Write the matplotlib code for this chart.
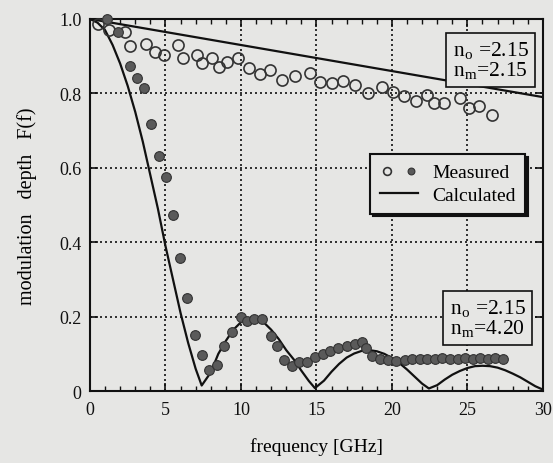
import numpy as np
import matplotlib.pyplot as plt
from matplotlib.legend_handler import HandlerTuple
from matplotlib.ticker import MultipleLocator

plt.rcParams['font.family'] = ['Liberation Serif', 'DejaVu Serif']
plt.rcParams['mathtext.fontset'] = 'stix'

# calculated curves
calc_f_hi = [0, 10, 20, 30]
calc_F_hi = [1.0, 0.93, 0.86, 0.79]   # n_m = 2.15

calc_f_lo = [0, 0.5, 1, 1.5, 2, 2.5, 3, 3.5, 4, 4.5, 5, 5.5, 6, 6.5, 7, 7.4,
             8, 8.5, 9, 9.5, 10, 10.5, 11, 11.5, 12, 12.5, 13, 13.5, 14, 14.5, 14.9,
             15.5, 16, 16.5, 17, 17.5, 18, 18.5, 19, 19.5, 20, 20.5, 21, 21.5, 22, 22.45,
             23, 23.5, 24, 24.5, 25, 25.5, 26, 26.5, 27, 27.5, 28, 28.5, 29, 29.5, 30]
calc_F_lo = [1.0, 0.99, 0.97, 0.93, 0.88, 0.82, 0.75, 0.67, 0.58, 0.49, 0.39, 0.30, 0.21, 0.13, 0.06, 0.015,
             0.05, 0.10, 0.135, 0.165, 0.185, 0.195, 0.195, 0.185, 0.165, 0.14, 0.11, 0.085, 0.055, 0.027, 0.008,
             0.028, 0.052, 0.073, 0.09, 0.101, 0.108, 0.11, 0.107, 0.10, 0.089, 0.075, 0.058, 0.039, 0.02, 0.007,
             0.016, 0.031, 0.044, 0.054, 0.062, 0.067, 0.068, 0.067, 0.063, 0.056, 0.047, 0.037, 0.025, 0.013, 0.004]   # n_m = 4.20

# measured, open circles (n_m = 2.15)
meas_f_open = [0.55, 1.28, 2.32, 2.65, 3.69, 4.28, 4.92, 5.81, 6.18, 7.06, 7.40, 8.06, 8.56, 9.05, 9.78,
               10.55, 11.26, 11.92, 12.74, 13.58, 14.57, 15.23, 16.0, 16.78, 17.55, 18.43, 19.32, 20.04,
               20.8, 21.59, 22.34, 22.8, 23.44, 24.5, 25.1, 25.76, 26.64]
meas_F_open = [0.987, 0.971, 0.964, 0.928, 0.933, 0.912, 0.903, 0.931, 0.895, 0.903, 0.882, 0.895, 0.870, 0.885, 0.894,
               0.868, 0.852, 0.864, 0.837, 0.848, 0.855, 0.830, 0.828, 0.834, 0.823, 0.800, 0.816, 0.803,
               0.792, 0.779, 0.796, 0.774, 0.774, 0.787, 0.760, 0.767, 0.742]

# measured, filled dots (n_m = 4.20)
meas_f_fill = [1.1, 1.88, 2.65, 3.09, 3.58, 4.02, 4.57, 5.03, 5.47, 5.96, 6.45, 6.95, 7.4, 7.9, 8.39, 8.87,
               9.38, 10.0, 10.42, 10.88, 11.41, 11.96, 12.4, 12.85, 13.36, 13.86, 14.39, 14.9, 15.41, 15.9,
               16.44, 17.0, 17.55, 17.99, 18.3, 18.65, 19.2, 19.75, 20.3, 20.85, 21.35, 21.85, 22.35, 22.85,
               23.35, 23.85, 24.35, 24.85, 25.35, 25.85, 26.35, 26.85, 27.35]
meas_F_fill = [1.0, 0.964, 0.873, 0.841, 0.815, 0.718, 0.631, 0.574, 0.473, 0.358, 0.249, 0.151, 0.098, 0.056, 0.071, 0.12,
               0.16, 0.20, 0.189, 0.195, 0.195, 0.147, 0.12, 0.083, 0.068, 0.077, 0.079, 0.092, 0.099, 0.108,
               0.117, 0.122, 0.126, 0.131, 0.117, 0.095, 0.086, 0.083, 0.081, 0.084, 0.086, 0.085, 0.087, 0.086,
               0.088, 0.087, 0.086, 0.088, 0.087, 0.088, 0.087, 0.088, 0.087]

bg = '#e6e6e4'
fig = plt.figure(figsize=(5.53, 4.64), dpi=100, facecolor=bg)
ax = fig.add_axes([0.1627, 0.155, 0.819, 0.802], facecolor=bg)

ax.plot(calc_f_hi, calc_F_hi, '-', color='#111111', lw=1.6, zorder=3)
line, = ax.plot(calc_f_lo, calc_F_lo, '-', color='#111111', lw=1.6, zorder=3)
op, = ax.plot(meas_f_open, meas_F_open, 'o', ms=8, mfc='none', mec='#333333', mew=1.2, zorder=4, clip_on=False)
fi, = ax.plot(meas_f_fill, meas_F_fill, 'o', ms=7, mfc='#5a5a5a', mec='#333333', mew=0.8, zorder=4, clip_on=False)

ax.set_xlim(0, 30)
ax.set_ylim(0, 1.0)
ax.set_xticks([0, 5, 10, 15, 20, 25, 30])
ax.set_yticks([0, 0.2, 0.4, 0.6, 0.8, 1.0])
ax.set_yticklabels(['0', '0.2', '0.4', '0.6', '0.8', '1.0'])
ax.xaxis.set_minor_locator(MultipleLocator(1))
ax.tick_params(which='both', direction='in', top=True, right=True, labelsize=13, colors='#111111')
ax.tick_params(which='major', length=6, width=1.2)
ax.tick_params(which='minor', length=3.5, width=1.0)
ax.tick_params(axis='x', pad=7)
ax.tick_params(axis='y', pad=6)
ax.grid(True, which='major', ls=(0, (1.2, 1.8)), color='#111111', lw=1.2)
for s in ax.spines.values():
    s.set_linewidth(1.5)
    s.set_color('#111111')

ax.set_xlabel('frequency [GHz]', fontsize=14, labelpad=14)
ax.set_ylabel('modulation   depth   F(f)', fontsize=14.5, labelpad=16)

leg = ax.legend([(op, fi), line], ['Measured', 'Calculated'],
                handler_map={tuple: HandlerTuple(ndivide=None, pad=0.4)},
                loc='upper left', bbox_to_anchor=(0.618, 0.637), borderaxespad=0, fontsize=14,
                fancybox=False, framealpha=1, edgecolor='#111111', facecolor=bg,
                shadow={'color': '#111111', 'alpha': 1}, handlelength=2.0, markerscale=0.7,
                borderpad=0.5, labelspacing=0.25, handletextpad=0.7)
leg.get_frame().set_linewidth(1.5)

box = dict(boxstyle='square,pad=0.3', fc=bg, ec='#111111', lw=1.2)
ax.text(0.885, 0.89, 'n$_\\mathregular{o}$ =2.15\nn$_\\mathregular{m}$=2.15', transform=ax.transAxes,
        ha='center', va='center', fontsize=15.5, bbox=box, linespacing=0.95, zorder=6)
ax.text(0.878, 0.197, 'n$_\\mathregular{o}$ =2.15\nn$_\\mathregular{m}$=4.20', transform=ax.transAxes,
        ha='center', va='center', fontsize=15.5, bbox=box, linespacing=0.95, zorder=6)

fig.savefig('out.png', dpi=100, facecolor=bg)
